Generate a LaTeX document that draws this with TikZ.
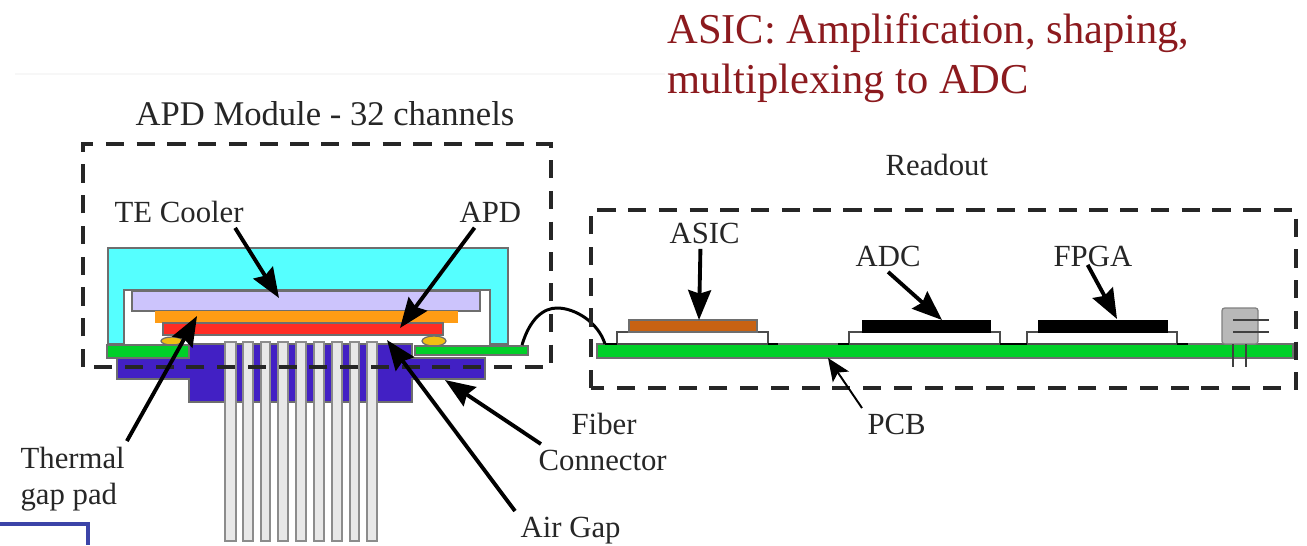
\documentclass[tikz,border=0pt]{standalone}
\usepackage{fontspec}
\setmainfont{Liberation Serif}
\usetikzlibrary{arrows.meta}
\definecolor{coolercyan}{RGB}{85,255,255}
\definecolor{lavender}{RGB}{204,196,252}
\definecolor{padorange}{RGB}{255,156,20}
\definecolor{apdred}{RGB}{255,44,36}
\definecolor{boardgreen}{RGB}{0,208,40}
\definecolor{connblue}{RGB}{66,32,196}
\definecolor{solderyellow}{RGB}{240,190,20}
\definecolor{asicbrown}{RGB}{200,98,18}
\definecolor{titlered}{RGB}{140,26,30}
\definecolor{slideblue}{RGB}{60,68,168}
\definecolor{edgegrey}{RGB}{110,110,110}
\begin{document}
\begin{tikzpicture}[x=0.02cm,y=-0.02cm,
  lbl/.style={anchor=base west, inner sep=3pt, font=\fontsize{17.5}{20}\selectfont, text=black!85},
  titletext/.style={anchor=base west, inner sep=0pt, font=\fontsize{24.2}{28}\selectfont, text=titlered},
  dashbox/.style={draw=black!85, line width=2.2pt, dash pattern=on 10.3pt off 7.2pt},
  part/.style={draw=edgegrey, line width=0.7pt},
  chipboard/.style={draw=black!70, fill=white, line width=0.7pt},
  foot/.style={draw=black, line width=0.8pt},
  pin/.style={draw=black!45, fill=black!9, line width=0.7pt},
  pointer/.style={draw=black, line width=2.2pt, -{Stealth[length=17pt,width=13pt,inset=2pt]}},
  thinpointer/.style={draw=black, line width=1.1pt, -{Stealth[length=13pt,width=11pt,inset=3pt]}}]
  \useasboundingbox (0,0) rectangle (1307,545);
  \draw[black!3, line width=0.6pt] (15,74) -- (665,74);

  \node[titletext] (asictitle) at (667,43) {ASIC: Amplification, shaping,};
  \node[titletext] (muxtitle) at (667,93) {multiplexing to ADC};
  \node[lbl, font=\fontsize{19.7}{22}\selectfont] (moduletitle) at (130,125) {APD Module - 32 channels};
  \node[lbl] (readout) at (880,175) {Readout};

  \filldraw[part, fill=connblue] (189,344) -- (412,344) -- (412,358) -- (485,358) -- (485,379) -- (412,379) -- (412,402) -- (189,402) -- (189,379) -- (117,379) -- (117,358) -- (189,358) -- cycle;
  \filldraw[pin] (225,342) rectangle (236,541);
  \filldraw[pin] (243,342) rectangle (253,541);
  \filldraw[pin] (261,342) rectangle (270,541);
  \filldraw[pin] (278,342) rectangle (288,541);
  \filldraw[pin] (296,342) rectangle (306,541);
  \filldraw[pin] (314,342) rectangle (324,541);
  \filldraw[pin] (332,342) rectangle (342,541);
  \filldraw[pin] (350,342) rectangle (359,541);
  \filldraw[pin] (367,342) rectangle (377,541);

  \filldraw[part, fill=coolercyan] (108,344) -- (108,248) -- (508,248) -- (508,344) -- (490,344) -- (490,290) -- (124,290) -- (124,344) -- cycle;
  \filldraw[part, fill=lavender] (132,291) rectangle (480,311);
  \filldraw[draw=padorange, fill=padorange] (155,311) rectangle (457,322);
  \filldraw[part, fill=apdred] (163,323) rectangle (443,335);
  \filldraw[part, fill=solderyellow] (172,341) ellipse (11 and 4);
  \filldraw[part, fill=solderyellow] (434,341) ellipse (12 and 5);
  \filldraw[part, fill=boardgreen] (107,345) rectangle (189,358);
  \filldraw[part, fill=boardgreen] (415,346) rectangle (528,355);

  \filldraw[part, fill=boardgreen] (597,344) rectangle (1293,358);
  \filldraw[chipboard] (617,344) rectangle (768,332);
  \filldraw[part, fill=asicbrown] (629,320) rectangle (757,332);
  \filldraw[chipboard] (849,344) rectangle (1000,332);
  \filldraw[draw=black, fill=black] (862,320) rectangle (990,332);
  \filldraw[chipboard] (1027,344) rectangle (1177,332);
  \filldraw[draw=black, fill=black] (1038,320) rectangle (1167,332);
  \draw[foot] (605,344) -- (617,344);
  \draw[foot] (768,344) -- (778,344);
  \draw[foot] (838,344) -- (849,344);
  \draw[foot] (1000,344) -- (1027,344);
  \draw[foot] (1177,344) -- (1188,344);

  \filldraw[draw=black!50, fill=black!28, rounded corners=1.5pt, line width=0.7pt] (1222,308) rectangle (1258,344);
  \draw[black!75, line width=0.6pt] (1233,320) -- (1269,320);
  \draw[black!75, line width=0.6pt] (1233,332) -- (1269,332);
  \draw[black!75, line width=0.6pt] (1233,344) -- (1233,367);
  \draw[black!75, line width=0.6pt] (1246,344) -- (1246,367);

  \draw[black, line width=1.7pt] (522,345) .. controls (530,318) and (544,308) .. (557,308) .. controls (575,308) and (598,322) .. (605,344);

  \draw[dashbox] (83,367) -- (83,144) -- (551,144) -- (551,367) -- cycle;
  \draw[dashbox] (591,388) -- (591,210) -- (1296,210) -- (1296,388) -- cycle;

  \node[lbl] (tecooler) at (109,222) {TE Cooler};
  \node[lbl] (apdlabel) at (454,222) {APD};
  \node[lbl] (asiclabel) at (664,243) {ASIC};
  \node[lbl] (adclabel) at (850,266) {ADC};
  \node[lbl] (fpgalabel) at (1048,266) {FPGA};
  \node[lbl] (pcblabel) at (862,434) {PCB};
  \node[lbl] (fiberlabel) at (566,434) {Fiber};
  \node[lbl] (connlabel) at (533,470) {Connector};
  \node[lbl] (thermlabel) at (15,468) {Thermal};
  \node[lbl] (gaplabel) at (15,504) {gap pad};
  \node[lbl] (airlabel) at (515,537) {Air Gap};

  \coordinate (tecooltip) at (279,298);
  \coordinate (apdtip) at (400,328);
  \coordinate (thermtip) at (197,316);
  \coordinate (airtip) at (387,340);
  \coordinate (conntip) at (445,380);
  \coordinate (asictip) at (699,320);
  \coordinate (adctip) at (942,320);
  \coordinate (fpgatip) at (1117,319);
  \coordinate (pcbtip) at (828,358);

  \draw[pointer] ([xshift=-8pt]tecooler.south east) -- (tecooltip);
  \draw[pointer] ([xshift=-9pt]apdlabel.south) -- (apdtip);
  \draw[pointer] ([xshift=-2pt]thermlabel.north east) -- (thermtip);
  \draw[pointer] (airlabel.north west) -- (airtip);
  \draw[pointer] ([xshift=4.5pt]connlabel.north west) -- (conntip);
  \draw[pointer] ([xshift=-2.4pt]asiclabel.south) -- (asictip);
  \draw[pointer] (adclabel.south) -- (adctip);
  \draw[pointer] ([xshift=-3pt,yshift=4pt]fpgalabel.south) -- (fpgatip);
  \draw[thinpointer] (pcblabel.north west) -- (pcbtip);

  \draw[slideblue, line width=2.6pt] (0,524) -- (88,524) -- (88,545);
\end{tikzpicture}
\end{document}
